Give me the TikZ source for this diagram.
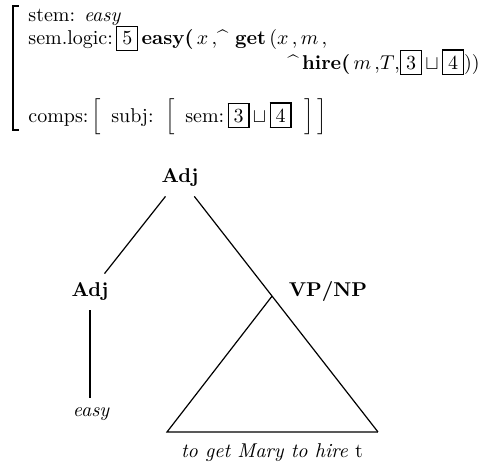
\documentclass[tikz,border=0pt]{standalone}
\usepackage{tikz}
\usetikzlibrary{calc}
\setlength{\fboxsep}{2.4pt}
\setlength{\fboxrule}{0.6pt}

\begin{document}
\begin{tikzpicture}[
    x=0.5pt, y=-0.5pt,
    avm/.style={anchor=base west, inner sep=0pt},
    cat/.style={font=\bfseries, inner sep=4.5pt},
    leaf/.style={font=\itshape, inner sep=4.5pt},
    edge/.style={line width=0.6pt, black}
  ]
  \useasboundingbox (0,0) rectangle (489,466);

  % Feature structure
  \node[avm] (stem) at (28,21) {stem: \textit{easy}};
  \node[avm] (sem) at (28,45) {sem.logic:\,\fbox{5}\,\textbf{easy(}\,$x$\,,\^{}\ \textbf{get}\,($x$\,,\,$m$\,,};
  \node[avm, anchor=base east] (hire) at (480,69) {\^{}\,\textbf{hire(}\,$m$\,,$T$,\fbox{3}\,$\sqcup$\,\fbox{4}))};
  \node[avm] (comps) at (28,122) {comps:\,$\Big[$\, subj:\, $\Big[$\, sem:\,\fbox{3}\,$\sqcup$\,\fbox{4}\,\, $\Big]\,\Big]$};
  \draw[line width=1pt] (19,6) -- (13,6) -- (13,130) -- (19,130);

  % Tree
  \node[cat] (top) at (180,178) {Adj};
  \node[cat] (adjL) at (90,292) {Adj};
  \node[cat] (vpnp) at (328,292) {VP/NP};
  \node[leaf] (easy) at (91,414) {easy};
  \node[leaf] (yield) at (272,453) {to get Mary to hire \textup{t}};
  \coordinate (baseL) at (167,432);
  \coordinate (baseR) at (378,432);
  \coordinate (apex) at ($(top.center)!0.465!(baseR)$);

  % Connections
  \draw[edge] (top) -- (adjL);
  \draw[edge] (top) -- (baseR);
  \draw[edge] (apex) -- (baseL) -- (baseR);
  \draw[edge] (adjL) -- (adjL |- easy.north);
\end{tikzpicture}
\end{document}
